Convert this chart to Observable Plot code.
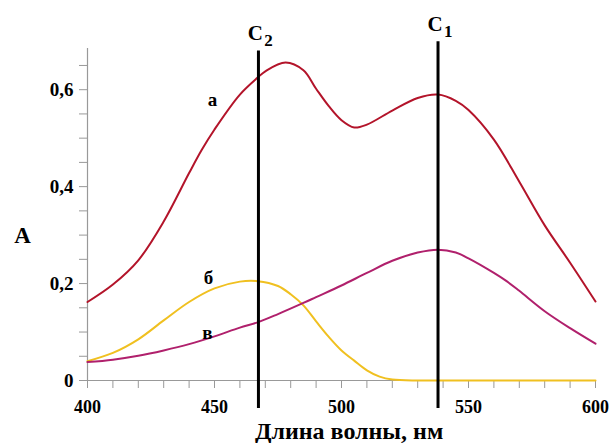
<!DOCTYPE html>
<html><head><meta charset="utf-8">
<script src="https://cdn.jsdelivr.net/npm/d3@7"></script>
<script src="https://cdn.jsdelivr.net/npm/@observablehq/plot@0.6"></script>
<style>body{margin:0;background:#fff}</style>
</head><body><div id="chart"></div>
<script>
// Curve "а" (red)
const wlA  = [400, 410, 420, 430, 440, 445, 450, 460, 467, 470, 478, 485, 490, 495, 500, 505, 510, 520, 530, 538, 545, 550, 560, 570, 580, 590, 600];
const absA = [0.162, 0.198, 0.248, 0.328, 0.428, 0.476, 0.518, 0.590, 0.625, 0.638, 0.656, 0.640, 0.602, 0.566, 0.537, 0.522, 0.528, 0.557, 0.583, 0.590, 0.577, 0.558, 0.497, 0.410, 0.320, 0.243, 0.163];
// Curve "б" (yellow)
const wlB  = [400, 410, 420, 430, 440, 450, 460, 467, 475, 480, 485, 490, 495, 500, 505, 510, 515, 520, 530, 540, 560, 580, 600];
const absB = [0.040, 0.057, 0.085, 0.124, 0.162, 0.190, 0.204, 0.205, 0.195, 0.178, 0.155, 0.122, 0.090, 0.062, 0.041, 0.021, 0.008, 0.002, 0, 0, 0, 0, 0];
// Curve "в" (magenta)
const wlC  = [400, 410, 420, 430, 440, 450, 460, 467, 475, 485, 490, 500, 510, 520, 530, 538, 545, 550, 560, 565, 570, 580, 590, 600];
const absC = [0.038, 0.043, 0.051, 0.062, 0.075, 0.091, 0.109, 0.120, 0.137, 0.160, 0.172, 0.196, 0.222, 0.247, 0.264, 0.270, 0.264, 0.252, 0.222, 0.205, 0.185, 0.143, 0.108, 0.076];

const xTicks = d3.range(400, 601, 10);
const xLabels = [400, 450, 500, 550, 600];
const yTicks = d3.range(0, 0.651, 0.05).map(v => +v.toFixed(2));
const yLabels = {0: "0", 0.2: "0,2", 0.4: "0,4", 0.6: "0,6"};

// Vertical marker lines C1, C2
const markerWl  = [467.3, 538];
const markerTop = [0.680, 0.699];
const markerName = ["C", "C"];
const markerSub  = ["2", "1"];

// Curve labels
const curveLabels = ["а", "б", "в"];
const curveLabelX = [449.2, 447.6, 447.2];
const curveLabelY = [0.579, 0.212, 0.099];

const xTitle = "Длина волны, нм";
const yTitle = "A";

const toRows = (xs, ys) => xs.map((x, i) => ({x, y: ys[i]}));
const rowsA = toRows(wlA, absA), rowsB = toRows(wlB, absB), rowsC = toRows(wlC, absC);
const markers = markerWl.map((x, i) => ({x, top: markerTop[i], name: markerName[i], sub: markerSub[i]}));
const labels = curveLabels.map((t, i) => ({t, x: curveLabelX[i], y: curveLabelY[i]}));

const serif = "'Liberation Serif', 'Times New Roman', serif";

const chart = Plot.plot({
  width: 611, height: 443,
  marginLeft: 87, marginRight: 16, marginTop: 48, marginBottom: 63,
  x: {domain: [400, 600]},
  y: {domain: [0, 0.685]},
  style: {fontFamily: serif, fontWeight: "bold", background: "#fff", color: "#000", overflow: "visible"},
  marks: [
    Plot.ruleX([400], {y1: 0, y2: 0.685, stroke: "#999", strokeWidth: 1.2}),
    Plot.ruleY([0], {stroke: "#999", strokeWidth: 1.2}),
    Plot.axisY({ticks: yTicks, tickSize: 8, tickPadding: 6, fontSize: 19, stroke: "#999", color: "#000",
      tickFormat: d => yLabels[+d.toFixed(2)] ?? "", label: null}),
    Plot.axisX({ticks: xTicks, tickSize: 8, tickPadding: 12, fontSize: 18, stroke: "#999", color: "#000",
      tickFormat: d => xLabels.includes(d) ? String(d) : "", label: null}),
    Plot.line(rowsB, {x: "x", y: "y", stroke: "#f0c020", strokeWidth: 2, curve: "catmull-rom"}),
    Plot.line(rowsC, {x: "x", y: "y", stroke: "#b0206c", strokeWidth: 2, curve: "catmull-rom"}),
    Plot.line(rowsA, {x: "x", y: "y", stroke: "#b3142a", strokeWidth: 2, curve: "catmull-rom"}),
    Plot.ruleX(markers, {x: "x", y1: -0.058, y2: "top", stroke: "#000", strokeWidth: 3}),
    Plot.text(markers, {x: d => d.x - 1.2, y: d => d.top + 0.036, text: "name", fontSize: 21, fontFamily: serif, fontWeight: "bold", fill: "#000"}),
    Plot.text(markers, {x: d => d.x + 4.0, y: d => d.top + 0.021, text: "sub", fontSize: 17, fontFamily: serif, fontWeight: "bold", fill: "#000"}),
    Plot.text(labels, {x: "x", y: "y", text: "t", fontSize: 19, fontFamily: serif, fontWeight: "bold", fill: "#000"}),
    Plot.text([xTitle], {x: 503, y: -0.105, text: d => d, fontSize: 24, fontFamily: serif, fontWeight: "bold", fill: "#000"}),
    Plot.text([yTitle], {x: 374.4, y: 0.299, text: d => d, fontSize: 23, fontFamily: serif, fontWeight: "bold", fill: "#000"})
  ]
});
document.getElementById("chart").appendChild(chart);
</script>
</body></html>
